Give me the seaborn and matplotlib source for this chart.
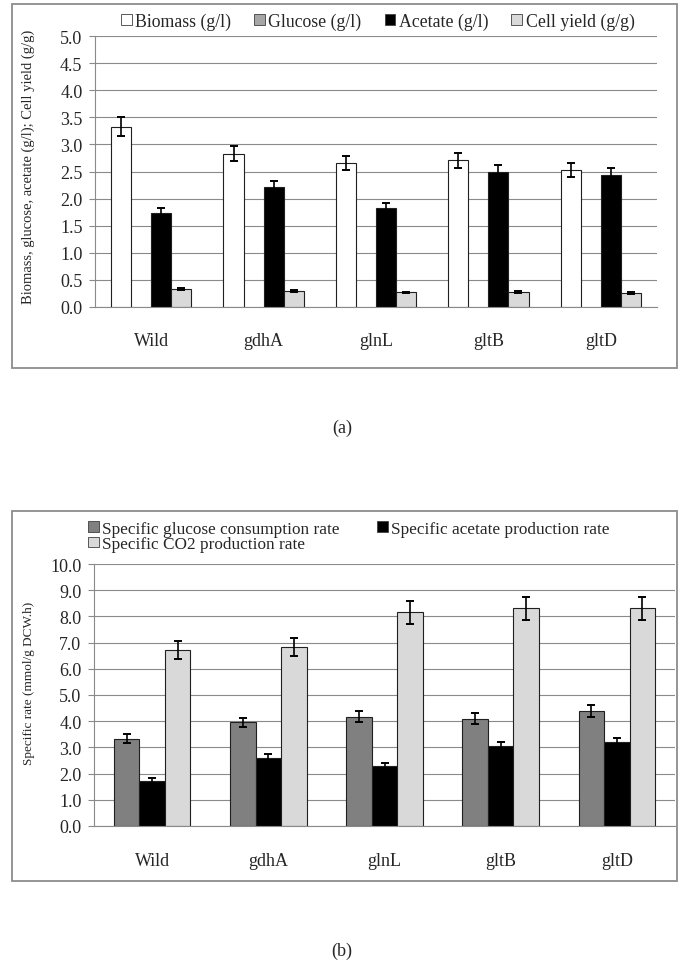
import matplotlib
matplotlib.use("Agg")
import matplotlib.pyplot as plt
from matplotlib.patches import Patch, Rectangle
import matplotlib.ticker as ticker
import numpy as np
import pandas as pd
import seaborn as sns

# strains (x categories), same for both panels
strains = ["Wild", "gdhA", "glnL", "gltB", "gltD"]

# panel (a): concentrations
series_a = ["Biomass (g/l)", "Glucose (g/l)", "Acetate (g/l)", "Cell yield (g/g)"]
biomass = [3.33, 2.83, 2.66, 2.71, 2.53]
glucose = [0.0, 0.0, 0.0, 0.0, 0.0]
acetate = [1.73, 2.22, 1.82, 2.50, 2.43]
cell_yield = [0.33, 0.29, 0.27, 0.28, 0.26]
biomass_err = [0.17, 0.14, 0.13, 0.14, 0.13]
glucose_err = [0.0, 0.0, 0.0, 0.0, 0.0]
acetate_err = [0.09, 0.10, 0.09, 0.12, 0.13]
cell_yield_err = [0.02, 0.015, 0.015, 0.015, 0.015]
colors_a = ["white", "#a6a6a6", "black", "#d9d9d9"]

# panel (b): specific rates
series_b = ["Specific glucose consumption rate", "Specific acetate production rate",
            "Specific CO2 production rate"]
glc_rate = [3.33, 3.96, 4.17, 4.10, 4.38]
ace_rate = [1.72, 2.58, 2.29, 3.06, 3.20]
co2_rate = [6.72, 6.84, 8.15, 8.31, 8.31]
glc_rate_err = [0.18, 0.18, 0.21, 0.21, 0.23]
ace_rate_err = [0.11, 0.15, 0.11, 0.16, 0.17]
co2_rate_err = [0.35, 0.35, 0.43, 0.43, 0.43]
colors_b = ["#808080", "black", "#d9d9d9"]

sns.set_style("white")
plt.rcParams['font.family'] = ['Liberation Serif', 'DejaVu Serif']

W, H = 685, 970
fig = plt.figure(figsize=(W / 100, H / 100), dpi=100)


def px_axes(x0, y0, x1, y1):
    return fig.add_axes([x0 / W, 1 - y1 / H, (x1 - x0) / W, (y1 - y0) / H])


def long_df(series, values):
    rows = []
    for name, vals in zip(series, values):
        for s, v in zip(strains, vals):
            rows.append({"strain": s, "series": name, "value": v})
    return pd.DataFrame(rows)


def draw_panel(ax, series, values, errors, colors, width, ymax, ystep):
    df = long_df(series, values)
    sns.barplot(data=df, x="strain", y="value", hue="series", order=strains,
                hue_order=series, palette=colors, saturation=1, width=width,
                errorbar=None, edgecolor="#202020", linewidth=0.8, legend=False, ax=ax)
    for cont, err in zip(ax.containers, errors):
        xs, ys, es = [], [], []
        for bar, e in zip(cont, err):
            if bar.get_height() == 0:
                bar.set_visible(False)
                continue
            xs.append(bar.get_x() + bar.get_width() / 2)
            ys.append(bar.get_height())
            es.append(e)
        if xs:
            ax.errorbar(xs, ys, yerr=es, fmt="none", ecolor="black", elinewidth=1.2,
                        capsize=3, capthick=1.4, zorder=5)
    ax.set_xlim(-0.5, len(strains) - 0.5)
    ax.set_ylim(0, ymax)
    ax.yaxis.set_major_locator(ticker.MultipleLocator(ystep))
    ax.yaxis.set_major_formatter(ticker.FormatStrFormatter("%.1f"))
    ax.grid(axis="y", color="#8a8a8a", linewidth=0.8)
    ax.set_axisbelow(True)
    for sp in ["top", "right"]:
        ax.spines[sp].set_visible(False)
    for sp in ["left", "bottom"]:
        ax.spines[sp].set_color("#8a8a8a")
        ax.spines[sp].set_linewidth(0.8)
    ax.xaxis.set_minor_locator(ticker.FixedLocator(np.arange(-0.5, len(strains), 1.0)))
    ax.tick_params(axis="x", which="major", length=0, labelsize=13)
    ax.tick_params(axis="x", which="minor", length=4, color="#8a8a8a", width=0.8, direction="out")
    ax.tick_params(axis="y", which="major", length=4, color="#8a8a8a", width=0.8,
                   direction="out", labelsize=13, pad=5, left=True)
    ax.set_xlabel("")


# ---- panel (a)
ax_a = px_axes(95, 37, 657, 308)
draw_panel(ax_a, series_a, [biomass, glucose, acetate, cell_yield],
           [biomass_err, glucose_err, acetate_err, cell_yield_err], colors_a, 0.714, 5.0, 0.5)
ax_a.tick_params(axis="x", which="major", pad=18)
ax_a.set_ylabel("Biomass, glucose, acetate (g/l); Cell yield (g/g)", fontsize=10.5)
ax_a.yaxis.set_label_coords(-0.106, 0.52)
handles_a = [Patch(facecolor=c, edgecolor="#404040", linewidth=0.6) for c in colors_a]
ax_a.legend(handles_a, series_a, loc="center left", bbox_to_anchor=(0.046, 1.055),
            ncol=4, frameon=False, fontsize=12.8, handlelength=0.6, handleheight=0.6,
            handletextpad=0.2, columnspacing=1.3, borderpad=0, borderaxespad=0)

# ---- panel (b)
ax_b = px_axes(94, 565, 675, 827)
draw_panel(ax_b, series_b, [glc_rate, ace_rate, co2_rate],
           [glc_rate_err, ace_rate_err, co2_rate_err], colors_b, 0.66, 10.0, 1.0)
ax_b.tick_params(axis="x", which="major", pad=19)
ax_b.set_ylabel("Specific rate (mmol/g DCW.h)", fontsize=9.5)
ax_b.yaxis.set_label_coords(-0.101, 0.55)
handles_b = [Patch(facecolor=c, edgecolor="#404040", linewidth=0.6) for c in colors_b]
# column-wise fill: put CO2 second so it lands under glucose
order = [0, 2, 1]
ax_b.legend([handles_b[i] for i in order], [series_b[i] for i in order],
            loc="center left", bbox_to_anchor=(-0.01, 1.105), ncol=2, frameon=False,
            fontsize=12.4, handlelength=0.6, handleheight=0.6, handletextpad=0.2,
            columnspacing=2.2, labelspacing=-0.05, borderpad=0, borderaxespad=0)

# outer frames and panel letters
for y0, y1 in [(5, 369), (512, 882)]:
    fig.add_artist(Rectangle((12 / W, 1 - y1 / H), 665 / W, (y1 - y0) / H,
                             transform=fig.transFigure, fill=False,
                             edgecolor="#8c8c8c", linewidth=1.3))
fig.text(342 / W, 1 - 428 / H, "(a)", ha="center", va="center", fontsize=13)
fig.text(342 / W, 1 - 951 / H, "(b)", ha="center", va="center", fontsize=13)

fig.savefig("out.png", dpi=100)
